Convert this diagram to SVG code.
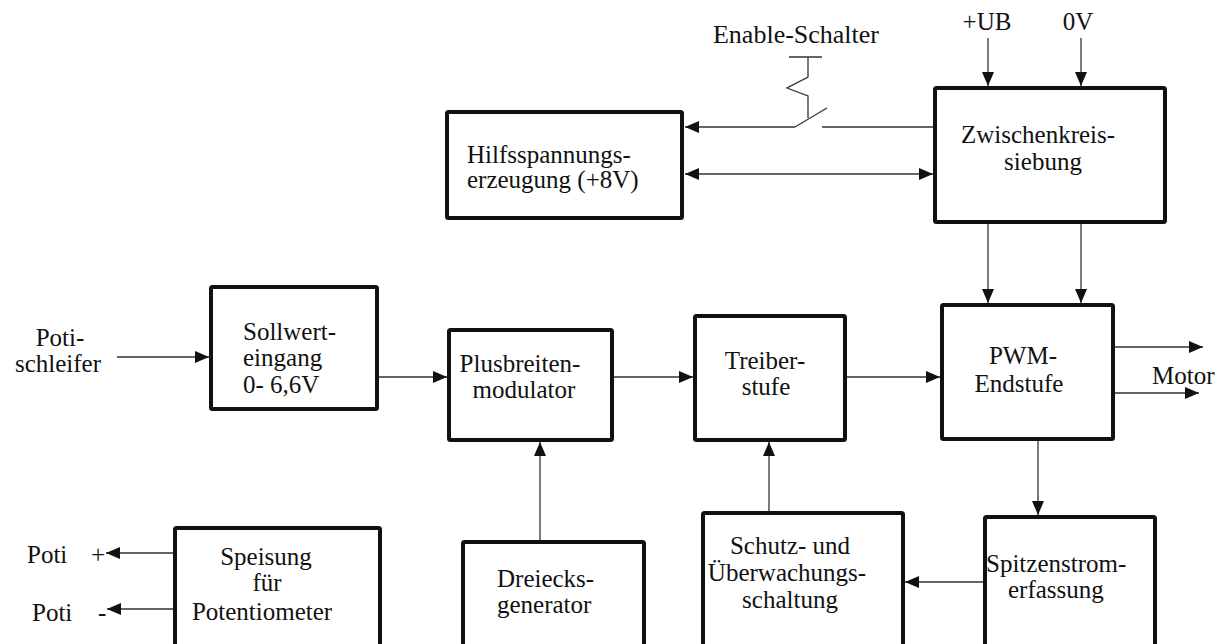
<svg xmlns="http://www.w3.org/2000/svg" width="1224" height="644" viewBox="0 0 1224 644" font-family="'Liberation Serif', Tinos, 'Times New Roman', 'DejaVu Serif', serif" font-size="25">
<defs>
<marker id="ah" markerUnits="userSpaceOnUse" markerWidth="15" markerHeight="12" refX="14" refY="6" orient="auto-start-reverse" viewBox="0 0 15 12">
<path d="M0,0 L14,6 L0,12 Z" fill="#111"/>
</marker>
</defs>
<style>
.box{fill:#fff;stroke:#111;stroke-width:4;stroke-linejoin:round}
.ln{fill:none;stroke:#333;stroke-width:1.3}
.arr{fill:none;stroke:#333;stroke-width:1.3;marker-end:url(#ah)}
text{fill:#111}
.m{text-anchor:middle}
</style>
<rect width="1224" height="644" fill="#fff"/>

<g id="connectors">
<line class="arr" x1="988" y1="38" x2="988" y2="86"/>
<line class="arr" x1="1081" y1="38" x2="1081" y2="86"/>
<line class="arr" x1="795" y1="127" x2="685" y2="127"/>
<line class="ln" x1="795" y1="127" x2="827" y2="108"/>
<line class="ln" x1="822" y1="127" x2="933" y2="127"/>
<polyline class="ln" points="789,57 822,57"/>
<polyline class="ln" points="808,57 808,77 787,88 808,96 808,118"/>
<line class="arr" x1="685" y1="174" x2="933" y2="174" marker-start="url(#ah)"/>
<line class="arr" x1="988" y1="224" x2="988" y2="303"/>
<line class="arr" x1="1081" y1="224" x2="1081" y2="303"/>
<line class="arr" x1="117" y1="357" x2="209" y2="357"/>
<line class="arr" x1="379" y1="377" x2="447" y2="377"/>
<line class="arr" x1="614" y1="377" x2="693" y2="377"/>
<line class="arr" x1="847" y1="377" x2="940" y2="377"/>
<line class="arr" x1="1115" y1="347" x2="1203" y2="347"/>
<line class="arr" x1="1115" y1="393" x2="1199" y2="393"/>
<line class="arr" x1="1038" y1="441" x2="1038" y2="515"/>
<line class="arr" x1="983" y1="582" x2="905" y2="582"/>
<line class="arr" x1="769" y1="511" x2="769" y2="442"/>
<line class="arr" x1="540" y1="540" x2="540" y2="442"/>
<line class="arr" x1="173" y1="553" x2="106" y2="553"/>
<line class="arr" x1="173" y1="609" x2="107" y2="609"/>
</g>

<g id="labels">
<text class="m" x="796" y="43" font-size="26">Enable-Schalter</text>
<text class="m" x="987" y="30">+UB</text>
<text class="m" x="1078" y="30">0V</text>
<text class="m" x="60" y="346">Poti-</text>
<text class="m" x="58" y="372">schleifer</text>
<text x="1152" y="384">Motor</text>
<text x="27" y="563">Poti</text>
<text x="91" y="563">+</text>
<text x="32" y="621">Poti</text>
<text x="98" y="621">-</text>
</g>

<g id="hilfs">
<rect class="box" x="447" y="112" width="235" height="106" rx="1.5"/>
<text x="467" y="163">Hilfsspannungs-</text>
<text x="467" y="188">erzeugung (+8V)</text>
</g>

<g id="zwischen">
<rect class="box" x="935" y="88" width="230" height="134" rx="1.5"/>
<text class="m" x="1038" y="143">Zwischenkreis-</text>
<text class="m" x="1043" y="170">siebung</text>
</g>

<g id="sollwert">
<rect class="box" x="211" y="287" width="166" height="122" rx="1.5"/>
<text x="243" y="340">Sollwert-</text>
<text x="243" y="366">eingang</text>
<text x="243" y="393">0- 6,6V</text>
</g>

<g id="plusbreiten">
<rect class="box" x="449" y="330" width="163" height="110" rx="1.5"/>
<text class="m" x="520" y="372">Plusbreiten-</text>
<text class="m" x="524" y="398">modulator</text>
</g>

<g id="treiber">
<rect class="box" x="695" y="316" width="150" height="124" rx="1.5"/>
<text class="m" x="765" y="369">Treiber-</text>
<text class="m" x="766" y="395">stufe</text>
</g>

<g id="pwm">
<rect class="box" x="942" y="305" width="171" height="134" rx="1.5"/>
<text class="m" x="1023" y="364">PWM-</text>
<text class="m" x="1019" y="392">Endstufe</text>
</g>

<g id="speisung">
<rect class="box" x="175" y="528" width="205" height="140" rx="1.5"/>
<text class="m" x="266" y="565">Speisung</text>
<text class="m" x="267" y="591">für</text>
<text class="m" x="262" y="620">Potentiometer</text>
</g>

<g id="dreieck">
<rect class="box" x="463" y="542" width="181" height="130" rx="1.5"/>
<text x="497" y="587">Dreiecks-</text>
<text x="497" y="613">generator</text>
</g>

<g id="schutz">
<rect class="box" x="703" y="513" width="200" height="150" rx="1.5"/>
<text class="m" x="790" y="554">Schutz- und</text>
<text class="m" x="787" y="581">Überwachungs-</text>
<text class="m" x="790" y="608">schaltung</text>
</g>

<g id="spitzen">
<rect class="box" x="985" y="517" width="170" height="150" rx="1.5"/>
<text x="986" y="572">Spitzenstrom-</text>
<text x="1008" y="598">erfassung</text>
</g>
</svg>
